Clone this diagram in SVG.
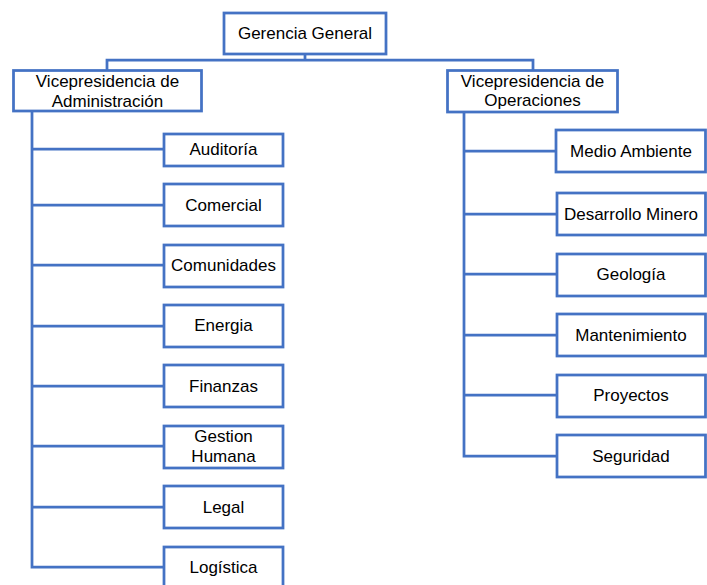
<svg xmlns="http://www.w3.org/2000/svg" width="707" height="585" viewBox="0 0 707 585">
<style>
.box{fill:#ffffff;stroke:#4472C4;stroke-width:2.75}
.conn{fill:none;stroke:#4472C4;stroke-width:2.75;stroke-linejoin:miter}
text{font-family:"Liberation Sans",Arial,sans-serif;font-size:17px;fill:#000000;text-anchor:middle}
</style>
<rect width="707" height="585" fill="#ffffff"/>
<g id="connectors">
<path class="conn" d="M305 54V60M107 70V60H533V70"/>
<path class="conn" d="M32 111V567H164M32 149H164M32 205H164M32 265H164M32 326H164M32 386H164M32 446H164M32 507H164"/>
<path class="conn" d="M464 112V456H556M464 151H556M464 214H556M464 274H556M464 335H556M464 395H556"/>
</g>
<g id="gerencia"><rect class="box" x="224" y="13" width="162" height="41"/><text x="305" y="39">Gerencia General</text></g>
<g id="vp-admin"><rect class="box" x="13.5" y="70.5" width="188" height="40.5"/><text x="107.5" y="87">Vicepresidencia de</text><text x="107.5" y="107">Administración</text></g>
<g id="vp-oper"><rect class="box" x="447.5" y="70.5" width="170" height="41.5"/><text x="532.5" y="87">Vicepresidencia de</text><text x="532.5" y="106">Operaciones</text></g>
<g id="auditoria"><rect class="box" x="164" y="134" width="119" height="32"/><text x="223.5" y="155">Auditoría</text></g>
<g id="comercial"><rect class="box" x="164" y="184" width="119" height="42"/><text x="223.5" y="211">Comercial</text></g>
<g id="comunidades"><rect class="box" x="164" y="245" width="119" height="42"/><text x="223.5" y="271">Comunidades</text></g>
<g id="energia"><rect class="box" x="164" y="305" width="119" height="42"/><text x="223.5" y="331">Energia</text></g>
<g id="finanzas"><rect class="box" x="164" y="365" width="119" height="42"/><text x="223.5" y="392">Finanzas</text></g>
<g id="gestion"><rect class="box" x="164" y="426" width="119" height="42"/><text x="223.5" y="442">Gestion</text><text x="223.5" y="462">Humana</text></g>
<g id="legal"><rect class="box" x="164" y="486" width="119" height="42"/><text x="223.5" y="513">Legal</text></g>
<g id="logistica"><rect class="box" x="164" y="547" width="119" height="45"/><text x="223.5" y="573">Logística</text></g>
<g id="medio"><rect class="box" x="556" y="130" width="149.5" height="42"/><text x="631" y="157">Medio Ambiente</text></g>
<g id="desarrollo"><rect class="box" x="557" y="193" width="148.5" height="42"/><text x="631" y="220">Desarrollo Minero</text></g>
<g id="geologia"><rect class="box" x="557" y="254" width="148.5" height="42"/><text x="631" y="280">Geología</text></g>
<g id="mantenimiento"><rect class="box" x="557" y="314" width="148.5" height="42"/><text x="631" y="341">Mantenimiento</text></g>
<g id="proyectos"><rect class="box" x="557" y="375" width="148.5" height="42"/><text x="631" y="401">Proyectos</text></g>
<g id="seguridad"><rect class="box" x="557" y="435" width="148.5" height="42"/><text x="631" y="462">Seguridad</text></g>
</svg>
